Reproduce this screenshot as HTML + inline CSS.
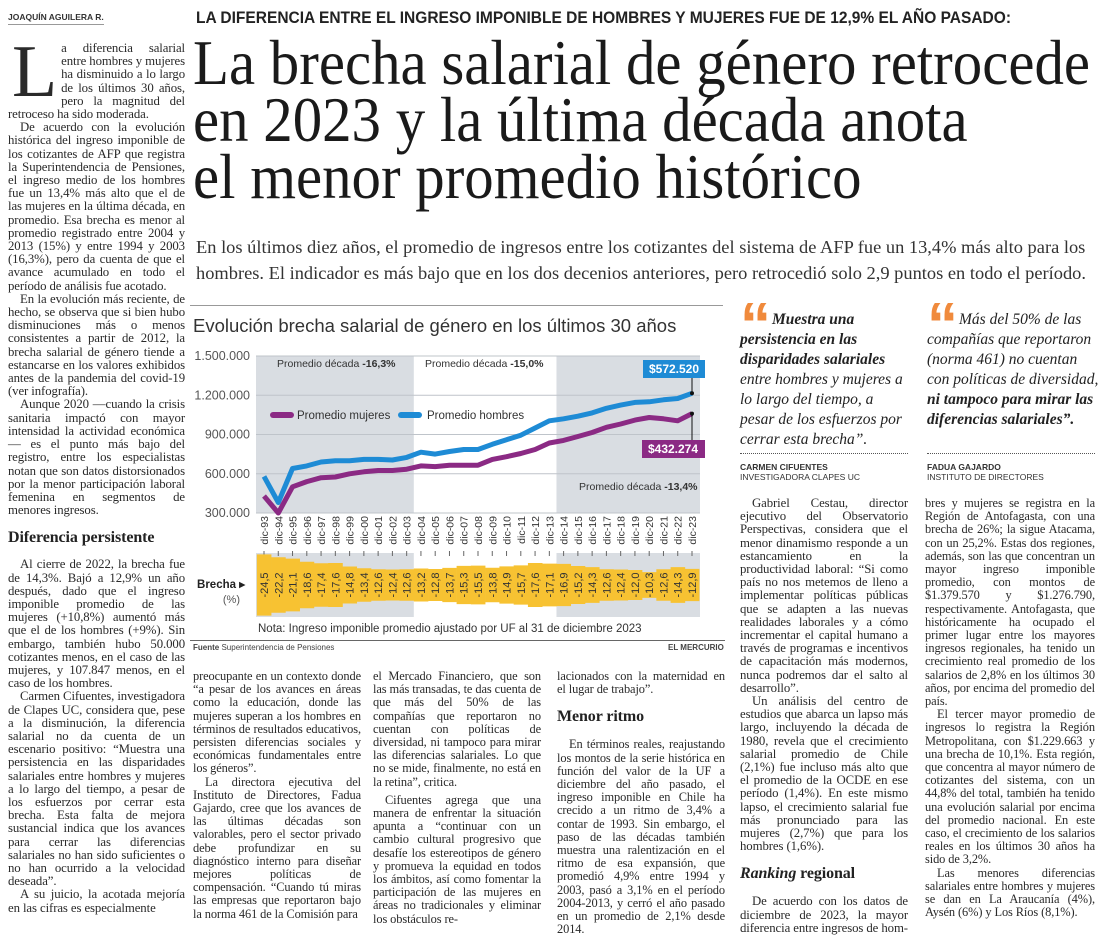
<!DOCTYPE html>
<html lang="es"><head><meta charset="utf-8">
<style>
body{margin:0;width:1100px;height:936px;background:#fff;position:relative;overflow:hidden;font-family:"Liberation Serif",serif;color:#222}
.abs{position:absolute}
.col{position:absolute;font-size:12.8px;line-height:13.2px;text-align:justify;hyphens:auto;color:#2a2a2a;letter-spacing:-0.1px}
.col.s{font-size:12.4px}
.col p{margin:0;text-indent:12px}
.col h3{font-size:16px;margin:6px 0 11px;font-weight:bold;color:#222;line-height:18px}
.line{white-space:nowrap;display:block;transform-origin:0 0}
.q{font-style:italic;font-size:15.5px;line-height:20px;color:#222}
.qm{color:#f08a3c;font-weight:bold;font-style:normal;font-size:62px;line-height:0;position:relative;top:22px;letter-spacing:-3px;margin-right:4px;font-family:"Liberation Sans",sans-serif}
.who{font-family:"Liberation Sans",sans-serif;font-size:8.5px;line-height:10px;color:#333}
svg text{font-family:"Liberation Sans",sans-serif}
</style></head><body>
<div class="abs" style="left:8px;top:12px;font-family:'Liberation Sans',sans-serif;font-weight:bold;font-size:8.5px;color:#333;border-bottom:1px solid #999;padding-bottom:2px">JOAQUÍN AGUILERA R.</div>

<div class="abs" style="left:196px;top:8px;font-family:'Liberation Sans',sans-serif;font-weight:bold;font-size:17px"><span class="line fit" data-w="815">LA DIFERENCIA ENTRE EL INGRESO IMPONIBLE DE HOMBRES Y MUJERES FUE DE 12,9% EL AÑO PASADO:</span></div>
<div class="abs" style="left:193px;top:34px;font-size:64px;line-height:57px;color:#1a1a1a">
<span class="line fit" data-w="897" id="t1">La brecha salarial de género retrocede</span>
<span class="line fitsame" data-ref="t1">en 2023 y la última década anota</span>
<span class="line fitsame" data-ref="t1">el menor promedio histórico</span></div>
<div class="abs" style="left:196px;top:234px;font-size:18px;line-height:26px;color:#333">
<span class="line fit" data-w="890" id="d1">En los últimos diez años, el promedio de ingresos entre los cotizantes del sistema de AFP fue un 13,4% más alto para los</span>
<span class="line fitsame" data-ref="d1">hombres. El indicador es más bajo que en los dos decenios anteriores, pero retrocedió solo 2,9 puntos en todo el período.</span></div>

<div class="col" style="left:8px;top:42px;width:177px">
<p style="text-indent:0"><span style="float:left;font-size:74px;line-height:56px;margin:2px 4px 0 4px">L</span>a diferencia salarial entre hombres y mujeres ha disminuido a lo largo de los últimos 30 años, pero la magnitud del retroceso ha sido moderada.</p>
<p>De acuerdo con la evolución histórica del ingreso imponible de los cotizantes de AFP que registra la Superintendencia de Pensiones, el ingreso medio de los hombres fue un 13,4% más alto que el de las mujeres en la última década, en promedio. Esa brecha es menor al promedio registrado entre 2004 y 2013 (15%) y entre 1994 y 2003 (16,3%), pero da cuenta de que el avance acumulado en todo el período de análisis fue acotado.</p>
<p>En la evolución más reciente, de hecho, se observa que si bien hubo disminuciones más o menos consistentes a partir de 2012, la brecha salarial de género tiende a estancarse en los valores exhibidos antes de la pandemia del covid-19 (ver infografía).</p>
<p>Aunque 2020 —cuando la crisis sanitaria impactó con mayor intensidad la actividad económica— es el punto más bajo del registro, entre los especialistas notan que son datos distorsionados por la menor participación laboral femenina en segmentos de menores ingresos.</p>
<h3 style="margin-top:12px">Diferencia persistente</h3>
<p>Al cierre de 2022, la brecha fue de 14,3%. Bajó a 12,9% un año después, dado que el ingreso imponible promedio de las mujeres (+10,8%) aumentó más que el de los hombres (+9%). Sin embargo, también hubo 50.000 cotizantes menos, en el caso de las mujeres, y 107.847 menos, en el caso de los hombres.</p>
<p>Carmen Cifuentes, investigadora de Clapes UC, considera que, pese a la disminución, la diferencia salarial no da cuenta de un escenario positivo: “Muestra una persistencia en las disparidades salariales entre hombres y mujeres a lo largo del tiempo, a pesar de los esfuerzos por cerrar esta brecha. Esta falta de mejora sustancial indica que los avances para cerrar las diferencias salariales no han sido suficientes o no han ocurrido a la velocidad deseada”.</p>
<p>A su juicio, la acotada mejoría en las cifras es especialmente</p>
</div>

<div class="abs" style="left:190px;top:305px;width:533px;height:1px;background:#999"></div>
<div class="abs" style="left:193px;top:315px;font-family:'Liberation Sans',sans-serif;font-size:18.5px;color:#333">Evolución brecha salarial de género en los últimos 30 años</div>

<svg class="abs" id="chart" style="left:190px;top:300px" width="540" height="360"></svg>

<div class="abs" style="left:190px;top:640px;width:535px;height:1px;background:#666"></div>
<div class="abs" style="left:193px;top:643px;font-family:'Liberation Sans',sans-serif;font-size:8px;color:#444"><b>Fuente</b> Superintendencia de Pensiones</div>
<div class="abs" style="left:668px;top:643px;font-family:'Liberation Sans',sans-serif;font-size:8px;color:#444;font-weight:bold">EL MERCURIO</div>

<div class="abs q" style="left:740px;top:304px;width:170px"><span class="qm">“</span><b>Muestra una persistencia en las disparidades salariales</b> entre hombres y mujeres a lo largo del tiempo, a pesar de los esfuerzos por cerrar esta brecha”.</div>
<div class="abs" style="left:740px;top:453px;width:168px;border-top:1px dotted #555"></div>
<div class="abs who" style="left:740px;top:462px"><b>CARMEN CIFUENTES</b><br>INVESTIGADORA CLAPES UC</div>
<div class="abs q" style="left:927px;top:304px;width:172px"><span class="qm">“</span>Más del 50% de las compañías que reportaron (norma 461) no cuentan con políticas de diversidad, <b>ni tampoco para mirar las diferencias salariales”.</b></div>
<div class="abs" style="left:927px;top:453px;width:168px;border-top:1px dotted #555"></div>
<div class="abs who" style="left:927px;top:462px"><b>FADUA GAJARDO</b><br>INSTITUTO DE DIRECTORES</div>

<div class="col s" style="left:193px;top:670px;width:168px">
<p style="text-indent:0">preocupante en un contexto donde “a pesar de los avances en áreas como la educación, donde las mujeres superan a los hombres en términos de resultados educativos, persisten diferencias sociales y económicas fundamentales entre los géneros”.</p>
<p>La directora ejecutiva del Instituto de Directores, Fadua Gajardo, cree que los avances de las últimas décadas son valorables, pero el sector privado debe profundizar en su diagnóstico interno para diseñar mejores políticas de compensación. “Cuando tú miras las empresas que reportaron bajo la norma 461 de la Comisión para</p></div>
<div class="col s" style="left:373px;top:670px;width:168px">
<p style="text-indent:0">el Mercado Financiero, que son las más transadas, te das cuenta de que más del 50% de las compañías que reportaron no cuentan con políticas de diversidad, ni tampoco para mirar las diferencias salariales. Lo que no se mide, finalmente, no está en la retina”, critica.</p>
<p style="margin-top:5px">Cifuentes agrega que una manera de enfrentar la situación apunta a “continuar con un cambio cultural progresivo que desafíe los estereotipos de género y promueva la equidad en todos los ámbitos, así como fomentar la participación de las mujeres en áreas no tradicionales y eliminar los obstáculos re-</p></div>
<div class="col s" style="left:557px;top:670px;width:168px">
<p style="text-indent:0">lacionados con la maternidad en el lugar de trabajo”.</p>
<h3 style="margin:12px 0 12px">Menor ritmo</h3>
<p>En términos reales, reajustando los montos de la serie histórica en función del valor de la UF a diciembre del año pasado, el ingreso imponible en Chile ha crecido a un ritmo de 3,4% a contar de 1993. Sin embargo, el paso de las décadas también muestra una ralentización en el ritmo de esa expansión, que promedió 4,9% entre 1994 y 2003, pasó a 3,1% en el período 2004-2013, y cerró el año pasado en un promedio de 2,1% desde 2014.</p></div>
<div class="col" style="left:740px;top:497px;width:168px">
<p>Gabriel Cestau, director ejecutivo del Observatorio Perspectivas, considera que el menor dinamismo responde a un estancamiento en la productividad laboral: “Si como país no nos metemos de lleno a implementar políticas públicas que se adapten a las nuevas realidades laborales y a cómo incrementar el capital humano a través de programas e incentivos de capacitación más modernos, nunca podremos dar el salto al desarrollo”.</p>
<p>Un análisis del centro de estudios que abarca un lapso más largo, incluyendo la década de 1980, revela que el crecimiento salarial promedio de Chile (2,1%) fue incluso más alto que el promedio de la OCDE en ese período (1,4%). En este mismo lapso, el crecimiento salarial fue más pronunciado para las mujeres (2,7%) que para los hombres (1,6%).</p>
<h3 style="margin:12px 0 12px"><i>Ranking</i> regional</h3>
<p>De acuerdo con los datos de diciembre de 2023, la mayor diferencia entre ingresos de hom-</p></div>
<div class="col s" style="left:925px;top:497px;width:170px">
<p style="text-indent:0">bres y mujeres se registra en la Región de Antofagasta, con una brecha de 26%; la sigue Atacama, con un 25,2%. Estas dos regiones, además, son las que concentran un mayor ingreso imponible promedio, con montos de $1.379.570 y $1.276.790, respectivamente. Antofagasta, que históricamente ha ocupado el primer lugar entre los mayores ingresos regionales, ha tenido un crecimiento real promedio de los salarios de 2,8% en los últimos 30 años, por encima del promedio del país.</p>
<p>El tercer mayor promedio de ingresos lo registra la Región Metropolitana, con $1.229.663 y una brecha de 10,1%. Esta región, que concentra al mayor número de cotizantes del sistema, con un 44,8% del total, también ha tenido una evolución salarial por encima del promedio nacional. En este caso, el crecimiento de los salarios reales en los últimos 30 años ha sido de 3,2%.</p>
<p>Las menores diferencias salariales entre hombres y mujeres se dan en La Araucanía (4%), Aysén (6%) y Los Ríos (8,1%).</p></div>

<script>
const years = ["93","94","95","96","97","98","99","00","01","02","03","04","05","06","07","08","09","10","11","12","13","14","15","16","17","18","19","20","21","22","23"];
const hombres = [580000,380000,640000,660000,690000,700000,700000,710000,710000,705000,725000,765000,750000,770000,785000,785000,825000,860000,895000,950000,1005000,1020000,1040000,1065000,1100000,1125000,1145000,1150000,1165000,1175000,1215000];
const mujeres = [430000,300000,500000,540000,570000,575000,600000,615000,625000,625000,635000,660000,655000,665000,665000,665000,710000,730000,755000,785000,835000,855000,885000,915000,955000,980000,1010000,1030000,1020000,1005000,1060000];
const brecha = [24.5,22.2,21.1,18.6,17.4,17.6,14.8,13.4,12.6,12.4,12.6,13.2,12.8,13.7,15.3,15.5,13.8,14.9,15.7,17.6,17.1,16.9,15.2,14.3,12.6,12.4,12.0,10.3,12.6,14.3,12.9];
const yTicks = [300000,600000,900000,1200000,1500000];
const yTickLabels = ["300.000","600.000","900.000","1.200.000","1.500.000"];
const decadas = ["-16,3%","-15,0%","-13,4%"];
const ultimoHombres = "$572.520";
const ultimoMujeres = "$432.274";

const NS="http://www.w3.org/2000/svg";
const svg=document.getElementById('chart');
function mk(tag,attrs,parent){const e=document.createElementNS(NS,tag);for(const k in attrs)e.setAttribute(k,attrs[k]);(parent||svg).appendChild(e);return e;}
const X0=66,X1=510,Y0=213,Y1=56,VMIN=300000,VMAX=1500000;
const step=(502-74)/(years.length-1);
function xs(i){return 74+i*step;}
function ys(v){return Y0-(v-VMIN)/(VMAX-VMIN)*(Y0-Y1);}
const bandL=(xs(10)+xs(11))/2, bandR=(xs(20)+xs(21))/2;
const SY0=253,SY1=317,SC=285;
let e;
e=mk('rect',{x:X0,y:Y1,width:bandL-X0,height:Y0-Y1,fill:'#d9dde2'});

e=mk('rect',{x:bandR,y:Y1,width:X1-bandR,height:Y0-Y1,fill:'#d9dde2'});

e=mk('rect',{x:X0,y:SY0,width:bandL-X0,height:SY1-SY0,fill:'#d9dde2'});

e=mk('rect',{x:bandR,y:SY0,width:X1-bandR,height:SY1-SY0,fill:'#d9dde2'});

yTicks.forEach((v,i)=>{
  const g=mk('line',{x1:X0,x2:X1,y1:ys(v),y2:ys(v),stroke:'#bfc4ca','stroke-width':1});
  
  const t=mk('text',{x:60,y:ys(v)+4,'text-anchor':'end','font-size':12.5,fill:'#555'});
  t.textContent=yTickLabels[i];
  
});
[[87,67,0],[235,67,1],[389,190,2]].forEach(([x,y,i])=>{
  const t=mk('text',{x:x,y:y,'font-size':10.5,fill:'#333'});
  t.innerHTML='Promedio década <tspan font-weight="bold">'+decadas[i]+'</tspan>';
  
});
function path(arr){return arr.map((v,i)=>(i?'L':'M')+xs(i).toFixed(1)+','+ys(v).toFixed(1)).join(' ');}
e=mk('path',{d:path(hombres),fill:'none',stroke:'#1e8bd5','stroke-width':5,'stroke-linejoin':'round'});

e=mk('path',{d:path(mujeres),fill:'none',stroke:'#8b2a84','stroke-width':5,'stroke-linejoin':'round'});

e=mk('line',{x1:83,x2:101,y1:115,y2:115,stroke:'#8b2a84','stroke-width':6,'stroke-linecap':'round'});

e=mk('text',{x:107,y:119,'font-size':11.5,fill:'#333'});e.textContent='Promedio mujeres';

e=mk('line',{x1:211,x2:229,y1:115,y2:115,stroke:'#1e8bd5','stroke-width':6,'stroke-linecap':'round'});

e=mk('text',{x:237,y:119,'font-size':11.5,fill:'#333'});e.textContent='Promedio hombres';

const n=years.length-1, lx=xs(n), hy=ys(hombres[n]), my=ys(mujeres[n]);
e=mk('line',{x1:lx,x2:lx,y1:hy,y2:77,stroke:'#111','stroke-width':1});

e=mk('circle',{cx:lx,cy:hy,r:2,fill:'#111'});

e=mk('rect',{x:453,y:60,width:62,height:18,fill:'#1e8bd5'});

e=mk('text',{x:484,y:73,'text-anchor':'middle','font-size':12,'font-weight':'bold',fill:'#fff'});e.textContent=ultimoHombres;

e=mk('line',{x1:lx,x2:lx,y1:my,y2:140,stroke:'#111','stroke-width':1});

e=mk('circle',{cx:lx,cy:my,r:2,fill:'#111'});

e=mk('rect',{x:452,y:140,width:63,height:18,fill:'#8b2a84'});

e=mk('text',{x:483,y:153,'text-anchor':'middle','font-size':12,'font-weight':'bold',fill:'#fff'});e.textContent=ultimoMujeres;

years.forEach((yr,i)=>{
  const x=xs(i);
  const t=mk('text',{transform:'translate('+(x+4)+','+(Y0+3)+') rotate(-90)','text-anchor':'end','font-size':10.5,fill:'#333'});
  t.textContent='dic-'+yr;
  
  const tk=mk('line',{x1:x,x2:x,y1:SY0-2,y2:SY0+3,stroke:'#666','stroke-width':1});
  
  const h=brecha[i]*2.5;
  const b=mk('rect',{x:x-step/2,y:SC-h/2,width:step+0.3,height:h,fill:'#f7c232'});
  
  const bt=mk('text',{transform:'translate('+(x+4)+','+SC+') rotate(-90)','text-anchor':'middle','font-size':11,fill:'#333'});
  bt.textContent='-'+brecha[i].toFixed(1).replace('.',',');
  
});
e=mk('text',{x:55,y:288,'text-anchor':'end','font-size':11.5,'font-weight':'bold',fill:'#222'});e.textContent='Brecha ▸';

e=mk('text',{x:50,y:303,'text-anchor':'end','font-size':11,fill:'#555'});e.textContent='(%)';

e=mk('text',{x:68,y:332,'font-size':11.5,fill:'#333'});e.textContent='Nota: Ingreso imponible promedio ajustado por UF al 31 de diciembre 2023';


const scales={};
document.querySelectorAll('.fit').forEach(el=>{const w=el.getBoundingClientRect().width;const s=(+el.dataset.w)/w;el.style.transform='scaleX('+s+')';if(el.id)scales[el.id]=s;});
document.querySelectorAll('.fitsame').forEach(el=>{el.style.transform='scaleX('+scales[el.dataset.ref]+')';});
</script>
</body></html>
